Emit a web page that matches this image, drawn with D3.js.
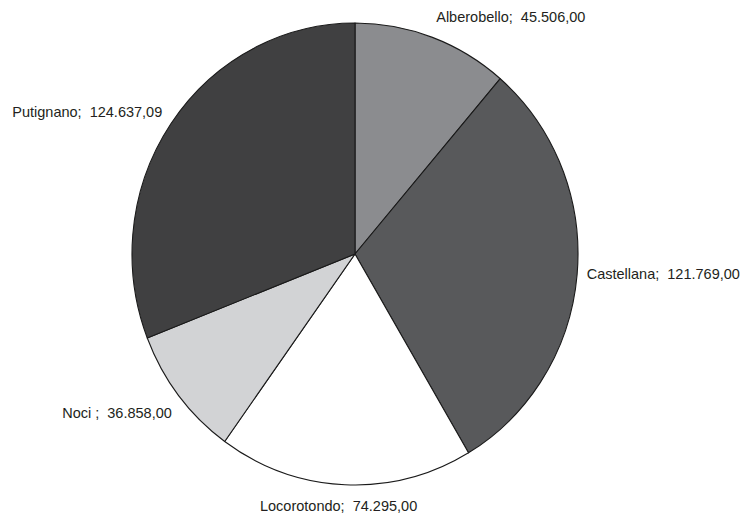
<!DOCTYPE html>
<html>
<head>
<meta charset="utf-8">
<script src="https://cdn.jsdelivr.net/npm/d3@7"></script>
<style>
  html, body { margin: 0; padding: 0; background: #fff; }
  svg { display: block; }
  text { font-family: "Liberation Sans", Arial, sans-serif; font-size: 14.5px; fill: #231f20; white-space: pre; }
</style>
</head>
<body>
<svg id="chart" width="745" height="515"></svg>
<script>
// Data
const categories = ["Alberobello", "Castellana", "Locorotondo", "Noci ", "Putignano"];
const values = [45506.00, 121769.00, 74295.00, 36858.00, 124637.09];
const valueLabels = ["45.506,00", "121.769,00", "74.295,00", "36.858,00", "124.637,09"];
const colors = ["#8b8c8f", "#58595b", "#ffffff", "#d2d3d5", "#404041"];

// Layout
const W = 745, H = 515;
const cx = 355, cy = 254, rx = 223, ry = 231;
const labelGap = 8;
const labelNudge = [[1, -8], [1.6, -1.5], [-6, 8], [-0.6, 9], [-2, -4.5]];
const capH = 14.5 * 0.716;

const svg = d3.select("#chart");
const data = categories.map((c, i) => ({ name: c, value: values[i], label: valueLabels[i], color: colors[i], i }));

const pie = d3.pie().sort(null).value(d => d.value).startAngle(0).endAngle(2 * Math.PI);
const arcs = pie(data);
const arc = d3.arc().innerRadius(0).outerRadius(rx);

const g = svg.append("g").attr("transform", `translate(${cx},${cy}) scale(1,${ry / rx})`);
g.selectAll("path").data(arcs).enter().append("path")
  .attr("d", arc)
  .attr("fill", d => d.data.color)
  .attr("stroke", "#1a1a1a")
  .attr("stroke-width", 1.1)
  .attr("stroke-linejoin", "round")
  .attr("vector-effect", "non-scaling-stroke");

svg.selectAll("text.lbl").data(arcs).enter().append("text")
  .attr("class", "lbl")
  .attr("xml:space", "preserve")
  .each(function(d) {
    const a = (d.startAngle + d.endAngle) / 2;
    const s = Math.sin(a), c = Math.cos(a);
    const px = cx + (rx + labelGap) * s;
    const py = cy - (ry + labelGap) * c;
    const anchor = s > 0.3 ? "start" : (s < -0.3 ? "end" : "middle");
    const base = py + capH * (1 - c) / 2;
    const n = labelNudge[d.data.i];
    d3.select(this)
      .attr("x", px + n[0])
      .attr("y", base + n[1])
      .attr("text-anchor", anchor)
      .text(d.data.name + ";  " + d.data.label);
  });
</script>
</body>
</html>
